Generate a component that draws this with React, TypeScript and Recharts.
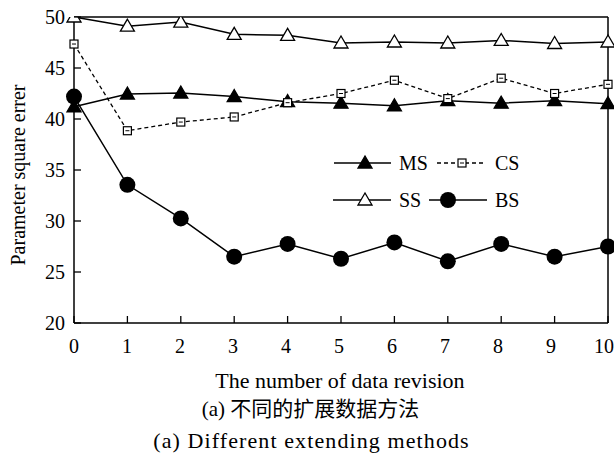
import { LineChart, Line, XAxis, YAxis, ReferenceLine } from 'recharts';

const revisions = [0, 1, 2, 3, 4, 5, 6, 7, 8, 9, 10];
const msValues = [41.2, 42.45, 42.55, 42.2, 41.7, 41.55, 41.3, 41.8, 41.55, 41.8, 41.5];
const csValues = [47.35, 38.85, 39.7, 40.2, 41.6, 42.5, 43.8, 42.0, 44.0, 42.5, 43.4];
const ssValues = [50.0, 49.1, 49.5, 48.3, 48.2, 47.45, 47.55, 47.45, 47.7, 47.4, 47.55];
const bsValues = [42.2, 33.55, 30.25, 26.5, 27.75, 26.3, 27.9, 26.05, 27.75, 26.5, 27.5];
const yTicks = [20, 25, 30, 35, 40, 45, 50];

const data = revisions.map((r, i) => ({
  r,
  MS: msValues[i],
  CS: csValues[i],
  SS: ssValues[i],
  BS: bsValues[i],
}));

const serif = '"Liberation Serif", "Times New Roman", serif';

const Tri = ({ cx, cy, filled }: { cx: number; cy: number; filled: boolean }) => (
  <polygon
    points={`${cx},${cy - 7} ${cx - 7},${cy + 5} ${cx + 7},${cy + 5}`}
    fill={filled ? '#000' : '#fff'}
    stroke="#000"
    strokeWidth={1.3}
  />
);

const Sq = ({ cx, cy }: { cx: number; cy: number }) => (
  <g>
    <rect x={cx - 4} y={cy - 4} width={8} height={8} fill="#fff" stroke="#000" strokeWidth={1.2} />
    <line x1={cx - 2} x2={cx + 2} y1={cy} y2={cy} stroke="#000" strokeWidth={1} />
  </g>
);

const Dot = ({ cx, cy }: { cx: number; cy: number }) => <circle cx={cx} cy={cy} r={8} fill="#000" />;

const YTick = ({ x, y, payload }: any) => (
  <g>
    <line x1={x} x2={x + 7} y1={y} y2={y} stroke="#000" strokeWidth={1.3} />
    <text x={x - 9} y={y} dy={7} textAnchor="end" fontSize={20} fontFamily={serif} fill="#000">
      {payload.value}
    </text>
  </g>
);

const XTick = ({ x, y, payload }: any) => (
  <g>
    <line x1={x} x2={x} y1={y} y2={y - 7} stroke="#000" strokeWidth={1.3} />
    <text x={x - payload.value * 0.4} y={y + 30} textAnchor="middle" fontSize={20} fontFamily={serif} fill="#000">
      {payload.value}
    </text>
  </g>
);

const LegendBox = () => (
  <svg width={200} height={60} style={{ overflow: 'visible' }}>
    <g fontFamily={serif} fontSize={20} fill="#000">
      <line x1={4} x2={61} y1={13} y2={13} stroke="#000" strokeWidth={1.5} />
      <Tri cx={35} cy={13} filled />
      <text x={69} y={20}>MS</text>
      <line x1={107} x2={155} y1={13} y2={13} stroke="#000" strokeWidth={1.3} strokeDasharray="4 3" />
      <Sq cx={132} cy={13} />
      <text x={165} y={20}>CS</text>

      <line x1={3} x2={61} y1={50} y2={50} stroke="#000" strokeWidth={1.5} />
      <Tri cx={35} cy={50} filled={false} />
      <text x={69} y={57}>SS</text>
      <line x1={99} x2={157} y1={50} y2={50} stroke="#000" strokeWidth={1.5} />
      <Dot cx={118} cy={50} />
      <text x={165} y={57}>BS</text>
    </g>
  </svg>
);

export default function App() {
  return (
    <div style={{ position: 'absolute', left: 0, top: 0, width: 614, height: 457, background: '#fff' }}>
      <LineChart width={614} height={457} data={data} margin={{ top: 17, right: 6, bottom: 94, left: 0 }}>
        <XAxis
          dataKey="r"
          type="number"
          domain={[0, 10]}
          ticks={revisions}
          tickSize={0}
          tickMargin={0}
          tick={<XTick />}
          tickLine={false}
          axisLine={{ stroke: '#000', strokeWidth: 1.5 }}
          height={40}
          interval={0}
        />
        <YAxis
          type="number"
          domain={[20, 50]}
          ticks={yTicks}
          tickSize={0}
          tickMargin={0}
          tick={<YTick />}
          tickLine={false}
          axisLine={{ stroke: '#000', strokeWidth: 1.5 }}
          width={74}
          interval={0}
          allowDataOverflow
        />
        <ReferenceLine y={50} stroke="#000" strokeWidth={1.5} />
        <ReferenceLine x={10} stroke="#000" strokeWidth={1.5} />
        <Line
          dataKey="MS"
          stroke="#000"
          strokeWidth={1.5}
          isAnimationActive={false}
          dot={(p: any) => <Tri key={`ms${p.index}`} cx={p.cx} cy={p.cy} filled />}
        />
        <Line
          dataKey="CS"
          stroke="#000"
          strokeWidth={1.3}
          strokeDasharray="4 3"
          isAnimationActive={false}
          dot={(p: any) => <Sq key={`cs${p.index}`} cx={p.cx} cy={p.cy} />}
        />
        <Line
          dataKey="SS"
          stroke="#000"
          strokeWidth={1.5}
          isAnimationActive={false}
          dot={(p: any) => <Tri key={`ss${p.index}`} cx={p.cx} cy={p.cy} filled={false} />}
        />
        <Line
          dataKey="BS"
          stroke="#000"
          strokeWidth={1.5}
          isAnimationActive={false}
          dot={(p: any) => <Dot key={`bs${p.index}`} cx={p.cx} cy={p.cy} />}
        />
      </LineChart>
      <div style={{ position: 'absolute', left: 330, top: 150 }}>
        <LegendBox />
      </div>
      <div
        style={{
          position: 'absolute',
          left: 18,
          top: 175,
          transform: 'translate(-50%, -50%) rotate(-90deg)',
          fontFamily: serif,
          fontSize: 20,
          whiteSpace: 'nowrap',
        }}
      >
        Parameter square errer
      </div>
      <div style={{ position: 'absolute', left: 0, width: 680, top: 368, textAlign: 'center', fontFamily: serif, fontSize: 22 }}>
        The number of data revision
      </div>
      <div
        style={{
          position: 'absolute',
          left: 0,
          width: 621,
          top: 392,
          textAlign: 'center',
          fontFamily: '"Liberation Serif", "Noto Sans CJK SC", serif',
          fontSize: 21,
        }}
      >
        (a) 不同的扩展数据方法
      </div>
      <div
        style={{
          position: 'absolute',
          left: 0,
          width: 623,
          top: 428,
          textAlign: 'center',
          fontFamily: serif,
          fontSize: 22,
          letterSpacing: 1.1,
        }}
      >
        (a) Different extending methods
      </div>
    </div>
  );
}
